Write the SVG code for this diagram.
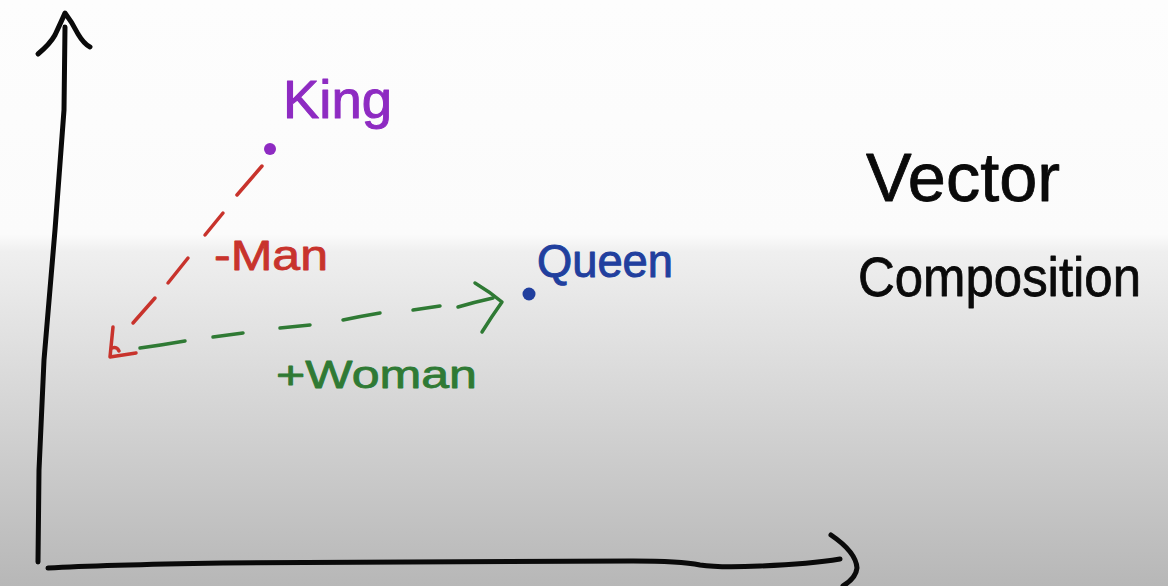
<svg xmlns="http://www.w3.org/2000/svg" width="1168" height="586" viewBox="0 0 1168 586">
  <defs>
    <linearGradient id="bg" x1="0" y1="0" x2="0" y2="586" gradientUnits="userSpaceOnUse">
      <stop offset="0" stop-color="#fdfdfd"/>
      <stop offset="0.40" stop-color="#fbfbfb"/>
      <stop offset="0.43" stop-color="#efefef"/>
      <stop offset="1" stop-color="#b7b7b7"/>
    </linearGradient>
    <style>
      .ink { fill: none; stroke-linecap: round; stroke-linejoin: round; }
      .axis { stroke: #0a0a0a; stroke-width: 5; }
      .red { stroke: #c8332c; stroke-width: 3.5; }
      .green { stroke: #2f7a34; stroke-width: 3.5; }
      .lbl { font-family: "Liberation Sans", Arial, sans-serif; stroke-linejoin: round; }
    </style>
  </defs>
  <rect x="0" y="0" width="1168" height="586" fill="url(#bg)"/>

  <g id="axes">
    <path class="ink axis" d="M65 27 L64 110 L55 230 L44 360 L39 470 L38 562"/>
    <path class="ink axis" d="M38 54 Q50 44 55 35 Q62 20 65 13 Q72 22 78 34 Q84 44 90 47"/>
    <path class="ink axis" d="M48 568 Q100 565 223 563 L633 561 Q680 561 700 565 Q720 568 760 566 Q810 564 840 559"/>
    <path class="ink axis" d="M831 535 Q856 552 857 568 Q856 578 843 586"/>
  </g>

  <g id="connectors">
    <g id="minus-man-vector" class="ink red">
      <path d="M262 166 L237 195"/>
      <path d="M223 213 L205 235"/>
      <path d="M188 258 L168 283"/>
      <path d="M155 298 L133 323"/>
      <path d="M113 327 L110 357 L136 353"/>
      <path d="M112 348 Q117 346 119 351"/>
    </g>
    <g id="plus-woman-vector" class="ink green">
      <path d="M140 348 Q162 345 185 341"/>
      <path d="M213 337 L243 333"/>
      <path d="M280 328 L310 325"/>
      <path d="M343 320 Q362 316 380 313"/>
      <path d="M413 310 L440 306"/>
      <path d="M458 307 Q475 302 493 298"/>
      <path d="M475 283 Q490 292 502 302 Q492 316 482 332"/>
    </g>
  </g>

  <g id="node-king">
    <circle cx="270" cy="149" r="6" fill="#8e2bc2"/>
    <text class="lbl" x="283" y="118" font-size="53" fill="#8e2bc2" stroke="#8e2bc2" stroke-width="1" textLength="109" lengthAdjust="spacingAndGlyphs">King</text>
  </g>

  <g id="node-queen">
    <circle cx="529" cy="294" r="6.5" fill="#213f9e"/>
    <text class="lbl" x="537" y="277" font-size="47" fill="#213f9e" stroke="#213f9e" stroke-width="1" textLength="136" lengthAdjust="spacingAndGlyphs">Queen</text>
  </g>

  <g id="label-man">
    <text class="lbl" x="214" y="270" font-size="42" fill="#c8332c" stroke="#c8332c" stroke-width="0.8" textLength="114" lengthAdjust="spacingAndGlyphs">-Man</text>
  </g>

  <g id="label-woman">
    <text class="lbl" x="276" y="388" font-size="38" fill="#2f7a34" stroke="#2f7a34" stroke-width="0.8" textLength="201" lengthAdjust="spacingAndGlyphs">+Woman</text>
  </g>

  <g id="title">
    <text class="lbl" x="866" y="201" font-size="68" fill="#0a0a0a" stroke="#0a0a0a" stroke-width="0.8" textLength="194" lengthAdjust="spacingAndGlyphs">Vector</text>
    <text class="lbl" x="858" y="296" font-size="56" fill="#0a0a0a" stroke="#0a0a0a" stroke-width="0.8" textLength="283" lengthAdjust="spacingAndGlyphs">Composition</text>
  </g>
</svg>
